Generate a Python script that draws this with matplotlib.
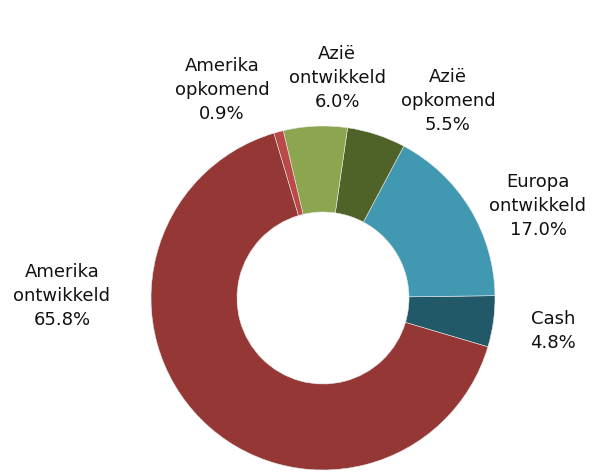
"""Donut chart: regional allocation."""
import matplotlib
matplotlib.use('Agg')
import matplotlib.pyplot as plt
import numpy as np

# data (counterclockwise, starting at Cash)
regions = ["Cash", "Europa\nontwikkeld", "Azië\nopkomend", "Azië\nontwikkeld",
           "Amerika\nopkomend", "Amerika\nontwikkeld"]
shares = [4.8, 17.0, 5.5, 6.0, 0.9, 65.8]
colors = ["#215968", "#4199B1", "#4F6228", "#8BA64E", "#B94A48", "#953735"]

# label anchor positions in pixels (layout only)
label_pos = [(553, 331), (538, 206), (448, 101), (337, 78), (222, 90), (62, 296)]

W, H = 592, 472
CX, CY, R = 323, 298, 172

fig = plt.figure(figsize=(W / 100, H / 100), dpi=100)
ax = fig.add_axes([0, 0, 1, 1])

ax.pie(shares, colors=colors, startangle=-16.5, counterclock=True,
       center=(CX, H - CY), radius=R, frame=True,
       wedgeprops=dict(width=R * 0.5, edgecolor='#e8e8e8', linewidth=0.4))
ax.set_xlim(0, W)
ax.set_ylim(0, H)
ax.set_aspect('equal')
ax.axis('off')

for name, val, (lx, ly) in zip(regions, shares, label_pos):
    ax.text(lx, H - ly, f"{name}\n{val:.1f}%", ha='center', va='center',
            fontsize=13, color='#111111', linespacing=1.4)

fig.savefig("out.png", dpi=100)
